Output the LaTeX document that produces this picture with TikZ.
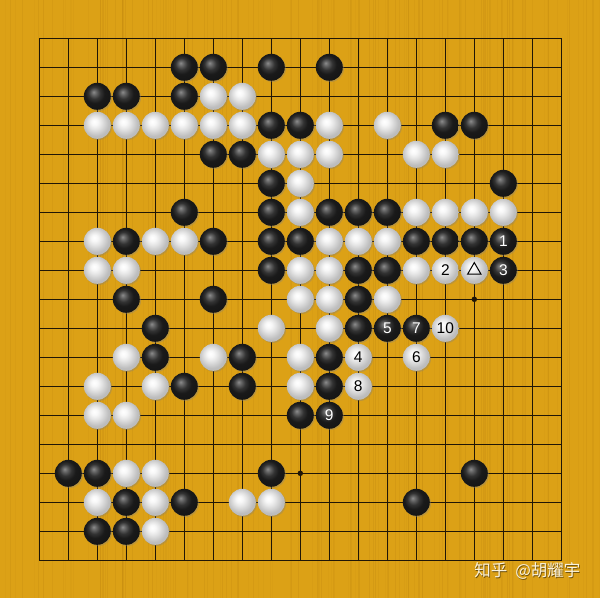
\documentclass[tikz,border=0pt]{standalone}
\usepackage{fontspec}
\usepackage{tikz}
\usetikzlibrary{shadows, shapes.geometric}
\newfontfamily\stonefont{Liberation Sans}
\newfontfamily\cjkfont{Noto Sans CJK SC}
\definecolor{woodcolor}{RGB}{220,161,22}
\definecolor{graincolor}{RGB}{150,95,5}
\definecolor{gridcolor}{RGB}{32,22,6}
\definecolor{signcolor}{RGB}{250,242,220}
\pgfdeclareradialshading{blackstone}{\pgfpoint{-7bp}{8bp}}{color(0bp)=(black!45); color(5bp)=(black!62); color(11bp)=(black!80); color(18bp)=(black!90); color(50bp)=(black!95)}
\pgfdeclareradialshading{whitestone}{\pgfpoint{-6bp}{7bp}}{color(0bp)=(white); color(6bp)=(white!97!black); color(12bp)=(white!90!black); color(18bp)=(white!82!black); color(24bp)=(white!74!black); color(50bp)=(white!70!black)}

\begin{document}
\begin{tikzpicture}%
	[x=29pt, y=-29pt,
	grain/.style={graincolor, line width=0.6pt},
	gridline/.style={gridcolor, line width=0.9pt},
	border/.style={gridcolor, line width=1.3pt},
	hoshi/.style={circle, fill=gridcolor, inner sep=0pt, minimum size=5.5pt},
	bstone/.style={circle, inner sep=0pt, minimum size=27pt, shading=blackstone,
		drop shadow={shadow xshift=1.2pt, shadow yshift=-1.2pt, opacity=0.35},
		text=white, font=\stonefont\fontsize{15.5}{15.5}\selectfont},
	wstone/.style={circle, inner sep=0pt, minimum size=27pt, shading=whitestone,
		drop shadow={shadow xshift=1.2pt, shadow yshift=-1.2pt, opacity=0.35},
		text=black, font=\stonefont\fontsize{15.5}{15.5}\selectfont},
	trimark/.style={regular polygon, regular polygon sides=3, draw=black, line width=1pt,
		inner sep=0pt, minimum size=15.5pt},
	signtext/.style={text=signcolor, font=\cjkfont\fontsize{16.5}{16.5}\selectfont}]
%
%% Board and wood
%%
\useasboundingbox (-1.3552,-1.3207) rectangle (19.334,19.300);
\fill[woodcolor] (-1.3552,-1.3207) rectangle (19.334,19.300);
\pgfmathsetseed{17}
\foreach \k in {1,...,140} {
	\pgfmathsetmacro\gx{-1.35+20.68*rnd}
	\pgfmathsetmacro\go{0.03+0.09*rnd}
	\draw[grain, opacity=\go] (\gx,-1.3207) -- (\gx,19.300);
}
%%
%% Drawing the grid
%%
\foreach \k in {1,...,17} {
	\draw[gridline] (0,\k) -- (18,\k);
	\draw[gridline] (\k,0) -- (\k,18);
}
\draw[border] (0,0) rectangle (18,18);
\node[hoshi] (h15-9) at (15,9) {};
\node[hoshi] (h9-15) at (9,15) {};
%%
%% Drawing the black stones
%%
\node[bstone] (b5-1) at (5,1) {};
\node[bstone] (b6-1) at (6,1) {};
\node[bstone] (b8-1) at (8,1) {};
\node[bstone] (b10-1) at (10,1) {};
\node[bstone] (b2-2) at (2,2) {};
\node[bstone] (b3-2) at (3,2) {};
\node[bstone] (b5-2) at (5,2) {};
\node[bstone] (b8-3) at (8,3) {};
\node[bstone] (b9-3) at (9,3) {};
\node[bstone] (b14-3) at (14,3) {};
\node[bstone] (b15-3) at (15,3) {};
\node[bstone] (b6-4) at (6,4) {};
\node[bstone] (b7-4) at (7,4) {};
\node[bstone] (b8-5) at (8,5) {};
\node[bstone] (b16-5) at (16,5) {};
\node[bstone] (b5-6) at (5,6) {};
\node[bstone] (b8-6) at (8,6) {};
\node[bstone] (b10-6) at (10,6) {};
\node[bstone] (b11-6) at (11,6) {};
\node[bstone] (b12-6) at (12,6) {};
\node[bstone] (b3-7) at (3,7) {};
\node[bstone] (b6-7) at (6,7) {};
\node[bstone] (b8-7) at (8,7) {};
\node[bstone] (b9-7) at (9,7) {};
\node[bstone] (b13-7) at (13,7) {};
\node[bstone] (b14-7) at (14,7) {};
\node[bstone] (b15-7) at (15,7) {};
\node[bstone] (b16-7) at (16,7) {1};
\node[bstone] (b8-8) at (8,8) {};
\node[bstone] (b11-8) at (11,8) {};
\node[bstone] (b12-8) at (12,8) {};
\node[bstone] (b16-8) at (16,8) {3};
\node[bstone] (b3-9) at (3,9) {};
\node[bstone] (b6-9) at (6,9) {};
\node[bstone] (b11-9) at (11,9) {};
\node[bstone] (b4-10) at (4,10) {};
\node[bstone] (b11-10) at (11,10) {};
\node[bstone] (b12-10) at (12,10) {5};
\node[bstone] (b13-10) at (13,10) {7};
\node[bstone] (b4-11) at (4,11) {};
\node[bstone] (b7-11) at (7,11) {};
\node[bstone] (b10-11) at (10,11) {};
\node[bstone] (b5-12) at (5,12) {};
\node[bstone] (b7-12) at (7,12) {};
\node[bstone] (b10-12) at (10,12) {};
\node[bstone] (b9-13) at (9,13) {};
\node[bstone] (b10-13) at (10,13) {9};
\node[bstone] (b1-15) at (1,15) {};
\node[bstone] (b2-15) at (2,15) {};
\node[bstone] (b8-15) at (8,15) {};
\node[bstone] (b15-15) at (15,15) {};
\node[bstone] (b3-16) at (3,16) {};
\node[bstone] (b5-16) at (5,16) {};
\node[bstone] (b13-16) at (13,16) {};
\node[bstone] (b2-17) at (2,17) {};
\node[bstone] (b3-17) at (3,17) {};
%%
%% Drawing the white stones
%%
\node[wstone] (w6-2) at (6,2) {};
\node[wstone] (w7-2) at (7,2) {};
\node[wstone] (w2-3) at (2,3) {};
\node[wstone] (w3-3) at (3,3) {};
\node[wstone] (w4-3) at (4,3) {};
\node[wstone] (w5-3) at (5,3) {};
\node[wstone] (w6-3) at (6,3) {};
\node[wstone] (w7-3) at (7,3) {};
\node[wstone] (w10-3) at (10,3) {};
\node[wstone] (w12-3) at (12,3) {};
\node[wstone] (w8-4) at (8,4) {};
\node[wstone] (w9-4) at (9,4) {};
\node[wstone] (w10-4) at (10,4) {};
\node[wstone] (w13-4) at (13,4) {};
\node[wstone] (w14-4) at (14,4) {};
\node[wstone] (w9-5) at (9,5) {};
\node[wstone] (w9-6) at (9,6) {};
\node[wstone] (w13-6) at (13,6) {};
\node[wstone] (w14-6) at (14,6) {};
\node[wstone] (w15-6) at (15,6) {};
\node[wstone] (w16-6) at (16,6) {};
\node[wstone] (w2-7) at (2,7) {};
\node[wstone] (w4-7) at (4,7) {};
\node[wstone] (w5-7) at (5,7) {};
\node[wstone] (w10-7) at (10,7) {};
\node[wstone] (w11-7) at (11,7) {};
\node[wstone] (w12-7) at (12,7) {};
\node[wstone] (w2-8) at (2,8) {};
\node[wstone] (w3-8) at (3,8) {};
\node[wstone] (w9-8) at (9,8) {};
\node[wstone] (w10-8) at (10,8) {};
\node[wstone] (w13-8) at (13,8) {};
\node[wstone] (w14-8) at (14,8) {2};
\node[wstone] (w15-8) at (15,8) {};
\node[wstone] (w9-9) at (9,9) {};
\node[wstone] (w10-9) at (10,9) {};
\node[wstone] (w12-9) at (12,9) {};
\node[wstone] (w8-10) at (8,10) {};
\node[wstone] (w10-10) at (10,10) {};
\node[wstone] (w14-10) at (14,10) {10};
\node[wstone] (w3-11) at (3,11) {};
\node[wstone] (w6-11) at (6,11) {};
\node[wstone] (w9-11) at (9,11) {};
\node[wstone] (w11-11) at (11,11) {4};
\node[wstone] (w13-11) at (13,11) {6};
\node[wstone] (w2-12) at (2,12) {};
\node[wstone] (w4-12) at (4,12) {};
\node[wstone] (w9-12) at (9,12) {};
\node[wstone] (w11-12) at (11,12) {8};
\node[wstone] (w2-13) at (2,13) {};
\node[wstone] (w3-13) at (3,13) {};
\node[wstone] (w3-15) at (3,15) {};
\node[wstone] (w4-15) at (4,15) {};
\node[wstone] (w2-16) at (2,16) {};
\node[wstone] (w4-16) at (4,16) {};
\node[wstone] (w7-16) at (7,16) {};
\node[wstone] (w8-16) at (8,16) {};
\node[wstone] (w4-17) at (4,17) {};
%%
%% Drawing the marks
%%
\node[trimark] (t15-8) at (w15-8) {};
\node[signtext, text=black, opacity=0.5, xshift=0.8pt, yshift=-0.8pt] (sign-shadow) at (16.83,18.37) {知乎\hspace{8pt}@胡耀宇};
\node[signtext] (sign) at (16.83,18.37) {知乎\hspace{8pt}@胡耀宇};
%%
\end{tikzpicture}
\end{document}
